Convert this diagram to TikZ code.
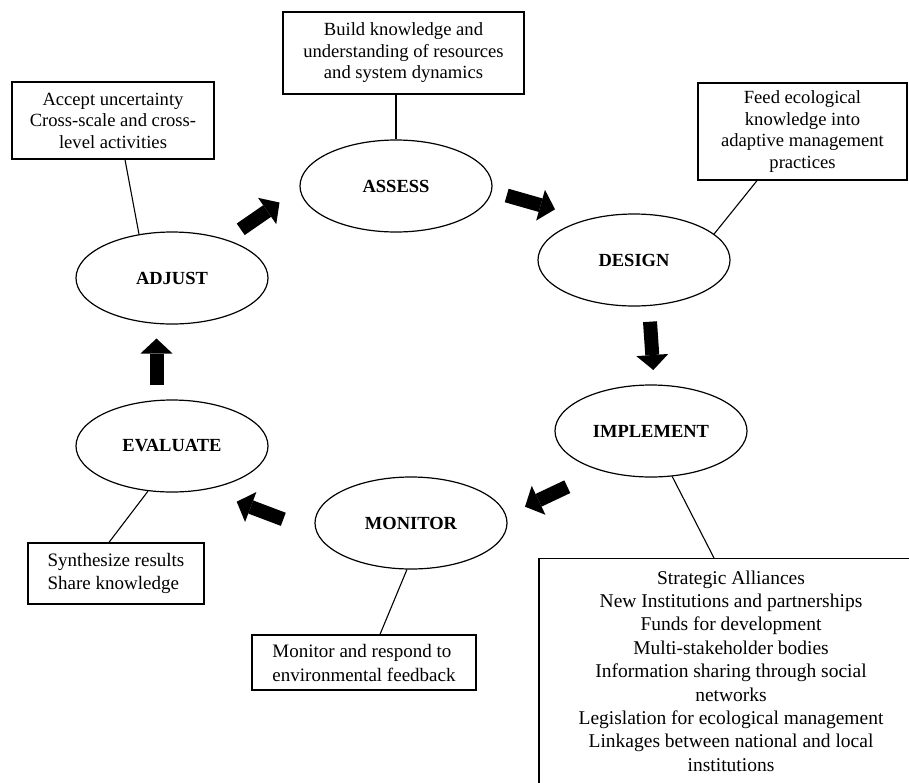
\documentclass[tikz,border=0pt]{standalone}
\usepackage{fontspec}
\setmainfont{Liberation Serif}
\usetikzlibrary{shapes.geometric,arrows.meta,calc}
\begin{document}
\begin{tikzpicture}[x=1pt,y=-1pt,
  phase/.style={ellipse,draw,line width=1.2pt,minimum width=192pt,minimum height=92pt,inner sep=0pt,font=\fontsize{18.5}{22}\selectfont\bfseries},
  infobox/.style={draw,line width=1.3pt,inner sep=0pt,align=center,font=\fontsize{18.6}{21.5}\selectfont},
  link/.style={line width=1.1pt},
  bigarrow/.style={line width=14pt,-{Triangle[width=32pt,length=15pt,line width=0pt]}}]
\clip (0,0) rectangle (909,782);
\fill[white] (0,0) rectangle (909,782);

% phases
\node[phase] (assess)    at (396,186) {ASSESS};
\node[phase] (design)    at (634,260) {DESIGN};
\node[phase] (implement) at (651,431) {IMPLEMENT};
\node[phase] (monitor)   at (411,523) {MONITOR};
\node[phase] (evaluate)  at (172,446) {EVALUATE};
\node[phase] (adjust)    at (172,278) {ADJUST};

% boxes
\node[infobox,minimum width=241pt,minimum height=82pt] (assessbox) at (403.5,53)
  {Build knowledge and\\understanding of resources\\and system dynamics};
\node[infobox,minimum width=202pt,minimum height=77pt] (adjustbox) at (113,120.5)
  {Accept uncertainty\\Cross-scale and cross-\\level activities};
\node[infobox,minimum width=209pt,minimum height=97pt] (designbox) at (802.5,131.5)
  {Feed ecological\\knowledge into\\adaptive management\\practices};
\node[infobox,align=left,minimum width=176pt,minimum height=61pt,font=\fontsize{19}{23}\selectfont] (evalbox) at (116,573.5)
  {Synthesize results\\Share knowledge};
\node[infobox,align=left,minimum width=224pt,minimum height=55pt,font=\fontsize{19}{24}\selectfont] (monbox) at (364,662.5)
  {Monitor and respond to\\environmental feedback};
\node[infobox,anchor=north,minimum width=384pt,inner ysep=12pt,font=\fontsize{19.5}{23.4}\selectfont] (implbox) at (731,558)
  {Strategic Alliances\\New Institutions and partnerships\\Funds for development\\Multi-stakeholder bodies\\Information sharing through social\\networks\\Legislation for ecological management\\Linkages between national and local\\institutions};

% links
\draw[link] (assess.north |- assessbox.south) -- (assess.north);
\draw[link] ($(adjustbox.south)+(12,0)$) -- (adjust.127);
\draw[link] ($(designbox.south)+(-45.5,0)$) -- (design.18);
\draw[link] ($(evalbox.north)+(-7,0)$) -- (evaluate.242);
\draw[link] ($(monbox.north)+(16,0)$) -- (monitor.265);
\draw[link] ($(implbox.north)+(-17,0)$) -- (implement.295);

% block arrows
\coordinate (a1s) at (240.7,229.3); \coordinate (a1e) at (279.5,202.5);
\coordinate (a2s) at (506.7,195.5); \coordinate (a2e) at (555,209.3);
\coordinate (a3s) at (650,321.7);   \coordinate (a3e) at (653.3,370);
\coordinate (a4s) at (567.3,486.7); \coordinate (a4e) at (525,506.7);
\coordinate (a5s) at (283.3,519.3); \coordinate (a5e) at (236.7,501.7);
\coordinate (a6s) at (156.5,385);   \coordinate (a6e) at (156.5,338.5);
\draw[bigarrow] (a1s) -- (a1e);
\draw[bigarrow] (a2s) -- (a2e);
\draw[bigarrow] (a3s) -- (a3e);
\draw[bigarrow] (a4s) -- (a4e);
\draw[bigarrow] (a5s) -- (a5e);
\draw[bigarrow] (a6s) -- (a6e);
\end{tikzpicture}
\end{document}
